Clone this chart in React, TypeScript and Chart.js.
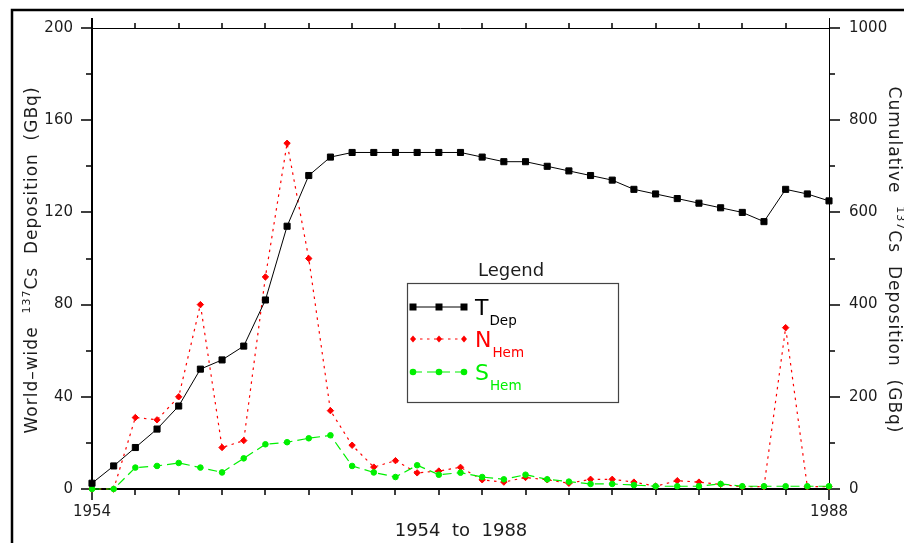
import React, { useEffect, useRef } from 'react';
import { Chart, registerables } from 'chart.js';

Chart.register(...registerables);

const years = [
  1954, 1955, 1956, 1957, 1958, 1959, 1960, 1961, 1962, 1963, 1964, 1965,
  1966, 1967, 1968, 1969, 1970, 1971, 1972, 1973, 1974, 1975, 1976, 1977,
  1978, 1979, 1980, 1981, 1982, 1983, 1984, 1985, 1986, 1987, 1988,
];
// Cumulative deposition (right axis, GBq)
const tDep = [
  12.5, 50, 90, 130, 180, 260, 280, 310, 410, 570, 680, 720,
  730, 730, 730, 730, 730, 730, 720, 710, 710, 700, 690, 680,
  670, 650, 640, 630, 620, 610, 600, 580, 650, 640, 625,
];
// Northern hemisphere (left axis, GBq)
const nHem = [
  0, 0, 31, 30, 40, 80, 18, 21, 92, 150, 100, 34,
  19, 9.5, 12.3, 7, 7.8, 9.4, 4, 3, 5, 4, 2.5, 4.2,
  4.2, 3, 1.2, 3.6, 3, 2, 1, 1, 70, 1, 1,
];
// Southern hemisphere (left axis, GBq)
const sHem = [
  0, 0, 9.3, 10, 11.3, 9.3, 7.2, 13.3, 19.4, 20.3, 22, 23.3,
  10, 7.2, 5.2, 10.3, 6.2, 7.1, 5.2, 4.2, 6.2, 4.2, 3.2, 2.2,
  2.2, 1.7, 1.2, 1.2, 1.2, 2.2, 1.2, 1.2, 1.2, 1.2, 1.2,
];
const xTickLabels = [1954, 1988];
const leftTicks = [0, 40, 80, 120, 160, 200];
const rightTicks = [0, 200, 400, 600, 800, 1000];

const FONT = "'DejaVu Sans', sans-serif";
const TEXT = '#1c1c1c';
const RED = '#ff0000';
const GREEN = '#00f000';

type Part = { text: string; size: number; rise: number };

function drawRich(ctx: CanvasRenderingContext2D, parts: Part[], spacing: number) {
  ctx.letterSpacing = spacing + 'px';
  let total = 0;
  const widths = parts.map((p) => {
    ctx.font = `${p.size}px ${FONT}`;
    const w = ctx.measureText(p.text).width;
    total += w;
    return w;
  });
  let x = -total / 2;
  parts.forEach((p, i) => {
    ctx.font = `${p.size}px ${FONT}`;
    ctx.fillText(p.text, x, -p.rise);
    x += widths[i];
  });
  ctx.letterSpacing = '0px';
}

const axesPlugin = {
  id: 'axesDecor',
  beforeDatasetsDraw(chart: any) {
    const { ctx, chartArea } = chart;
    const { left, right, top, bottom } = chartArea;
    const xs = chart.scales.x;
    const ys = chart.scales.y;
    const y1 = chart.scales.y1;
    ctx.save();
    ctx.strokeStyle = '#000';
    // outer frame
    ctx.lineWidth = 2.5;
    ctx.strokeRect(12, 10, 1200, 1200);
    // axis lines
    ctx.lineWidth = 1;
    ctx.beginPath();
    ctx.moveTo(left, top + 0.5);
    ctx.lineTo(right, top + 0.5);
    ctx.moveTo(right + 0.5, top - 10);
    ctx.lineTo(right + 0.5, bottom);
    ctx.stroke();
    ctx.lineWidth = 2;
    ctx.beginPath();
    ctx.moveTo(left, top - 10);
    ctx.lineTo(left, bottom);
    ctx.lineTo(right, bottom);
    ctx.stroke();
    // ticks
    ctx.lineWidth = 1.5;
    ctx.beginPath();
    for (let yr = 1954; yr <= 1988; yr += 2) {
      const px = Math.round(xs.getPixelForValue(yr));
      const major = xTickLabels.includes(yr);
      ctx.moveTo(px, bottom);
      ctx.lineTo(px, bottom + (major ? 11 : 6));
      if (!major) {
        ctx.moveTo(px, top);
        ctx.lineTo(px, top - 5);
      }
    }
    for (let v = 0; v <= 200; v += 20) {
      const py = Math.round(ys.getPixelForValue(v));
      const major = leftTicks.includes(v);
      ctx.moveTo(left, py);
      ctx.lineTo(left - (major ? 11 : 6), py);
    }
    for (let v = 0; v <= 1000; v += 100) {
      const py = Math.round(y1.getPixelForValue(v));
      const major = rightTicks.includes(v);
      ctx.moveTo(right, py);
      ctx.lineTo(right + (major ? 11 : 6), py);
    }
    ctx.stroke();
    ctx.restore();
  },
  afterDraw(chart: any) {
    const { ctx, chartArea } = chart;
    const { left, right, bottom } = chartArea;
    ctx.save();
    ctx.fillStyle = TEXT;
    ctx.textBaseline = 'alphabetic';
    ctx.textAlign = 'left';

    // left title
    ctx.save();
    ctx.translate(37, 260);
    ctx.rotate(-Math.PI / 2);
    drawRich(
      ctx,
      [
        { text: 'World\u2013wide  ', size: 17, rise: 0 },
        { text: '137', size: 11, rise: 7 },
        { text: 'Cs  Deposition  (GBq)', size: 17, rise: 0 },
      ],
      1
    );
    ctx.restore();

    // right title
    ctx.save();
    ctx.translate(889, 260);
    ctx.rotate(Math.PI / 2);
    drawRich(
      ctx,
      [
        { text: 'Cumulative  ', size: 17, rise: 0 },
        { text: '137', size: 11, rise: 8 },
        { text: 'Cs  Deposition  (GBq)', size: 17, rise: 0 },
      ],
      1
    );
    ctx.restore();

    // bottom title
    ctx.font = `18px ${FONT}`;
    ctx.textAlign = 'center';
    ctx.fillText('1954  to  1988', (left + right) / 2 + 0.5, bottom + 47);

    // legend
    ctx.fillText('Legend', 511, 276);
    ctx.strokeStyle = '#444';
    ctx.lineWidth = 1.2;
    ctx.strokeRect(407.5, 283.5, 211, 119);

    const rows = [
      { ds: 0, y: 307, big: 'T', sub: 'Dep', color: '#000', shape: 'rect' },
      { ds: 1, y: 339, big: 'N', sub: 'Hem', color: RED, shape: 'diamond' },
      { ds: 2, y: 372, big: 'S', sub: 'Hem', color: GREEN, shape: 'circle' },
    ];
    rows.forEach((r) => {
      const ds = chart.data.datasets[r.ds];
      ctx.save();
      ctx.strokeStyle = ds.borderColor;
      ctx.lineWidth = ds.borderWidth;
      ctx.setLineDash(ds.borderDash || []);
      ctx.beginPath();
      ctx.moveTo(413, r.y);
      ctx.lineTo(464, r.y);
      ctx.stroke();
      ctx.setLineDash([]);
      ctx.fillStyle = ds.backgroundColor;
      [413, 439, 464].forEach((mx) => {
        ctx.beginPath();
        if (r.shape === 'rect') {
          ctx.rect(mx - 3.5, r.y - 3.5, 7, 7);
        } else if (r.shape === 'diamond') {
          ctx.moveTo(mx, r.y - 3.5);
          ctx.lineTo(mx + 3, r.y);
          ctx.lineTo(mx, r.y + 3.5);
          ctx.lineTo(mx - 3, r.y);
          ctx.closePath();
        } else {
          ctx.arc(mx, r.y, 3.3, 0, Math.PI * 2);
        }
        ctx.fill();
      });
      ctx.restore();
      ctx.fillStyle = r.color;
      ctx.textAlign = 'left';
      ctx.font = `22px ${FONT}`;
      const bw = ctx.measureText(r.big).width;
      ctx.fillText(r.big, 475, r.y + 8);
      ctx.font = `13.5px ${FONT}`;
      ctx.fillText(r.sub, 476 + bw, r.y + 18);
    });
    ctx.restore();
  },
};

export default function App() {
  const ref = useRef<HTMLCanvasElement | null>(null);
  useEffect(() => {
    if (!ref.current) return;
    const chart = new Chart(ref.current, {
      type: 'line',
      data: {
        datasets: [
          {
            label: 'T Dep',
            data: years.map((y, i) => ({ x: y, y: tDep[i] })),
            yAxisID: 'y1',
            borderColor: '#000',
            backgroundColor: '#000',
            borderWidth: 1,
            pointStyle: 'rect',
            pointRadius: 4.3,
            pointBorderWidth: 1,
            order: 0,
            clip: false,
          },
          {
            label: 'N Hem',
            data: years.map((y, i) => ({ x: y, y: nHem[i] })),
            yAxisID: 'y',
            borderColor: RED,
            backgroundColor: RED,
            borderWidth: 1.2,
            borderDash: [2.5, 4.5],
            pointStyle: 'rectRot',
            pointRadius: 3.2,
            pointBorderWidth: 1,
            order: 2,
            clip: false,
          },
          {
            label: 'S Hem',
            data: years.map((y, i) => ({ x: y, y: sHem[i] })),
            yAxisID: 'y',
            borderColor: GREEN,
            backgroundColor: GREEN,
            borderWidth: 1.2,
            borderDash: [9, 5],
            pointStyle: 'circle',
            pointRadius: 2.8,
            pointBorderWidth: 1,
            order: 1,
            clip: false,
          },
        ],
      },
      options: {
        responsive: false,
        animation: false,
        devicePixelRatio: 1,
        layout: { padding: { top: 28, left: 0, right: 0, bottom: 0 } },
        plugins: {
          legend: { display: false },
          tooltip: { enabled: false },
        },
        elements: { line: { tension: 0 } },
        scales: {
          x: {
            type: 'linear',
            position: 'bottom',
            min: 1954,
            max: 1988,
            grid: { display: false, drawTicks: true, tickLength: 10 },
            border: { display: false },
            ticks: {
              stepSize: 34,
              padding: 4,
              maxRotation: 0,
              color: TEXT,
              font: { family: FONT, size: 15 },
              callback: (v: any) => (xTickLabels.includes(Number(v)) ? String(v) : ''),
            },
            afterFit: (s: any) => {
              s.height = 54;
            },
          },
          y: {
            type: 'linear',
            position: 'left',
            min: 0,
            max: 200,
            grid: { display: false, drawTicks: true, tickLength: 11 },
            border: { display: false },
            ticks: {
              stepSize: 40,
              padding: 8,
              color: TEXT,
              font: { family: FONT, size: 15 },
              callback: (v: any) => String(v),
            },
            afterFit: (s: any) => {
              s.width = 92;
            },
          },
          y1: {
            type: 'linear',
            position: 'right',
            min: 0,
            max: 1000,
            grid: { display: false, drawTicks: true, tickLength: 11 },
            border: { display: false },
            ticks: {
              stepSize: 200,
              padding: 9,
              color: TEXT,
              font: { family: FONT, size: 15 },
              callback: (v: any) => String(v),
            },
            afterFit: (s: any) => {
              s.width = 75;
            },
          },
        },
      },
      plugins: [axesPlugin],
    });
    return () => chart.destroy();
  }, []);
  return (
    <div style={{ position: 'absolute', left: 0, top: 0, width: 904, height: 543, background: '#fff' }}>
      <canvas ref={ref} width={904} height={543} />
    </div>
  );
}
